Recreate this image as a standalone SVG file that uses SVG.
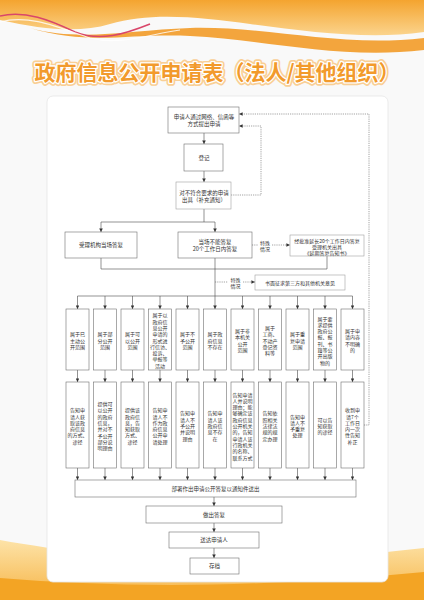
<svg xmlns="http://www.w3.org/2000/svg" width="424" height="600" viewBox="0 0 424 600">
<defs>
<style>
.bx{fill:#fff;stroke:#6e6e6e;stroke-width:0.6}
.bl{fill:#fff;stroke:#a0a0a0;stroke-width:0.6}
.t{font-family:"Noto Sans CJK SC","Noto Sans",sans-serif;font-size:5.5px;fill:#333;text-anchor:middle;dominant-baseline:central}
.s{font-family:"Noto Sans CJK SC","Noto Sans",sans-serif;font-size:5px;fill:#333;text-anchor:middle;dominant-baseline:central}
.ln{fill:none;stroke:#4a4a4a;stroke-width:0.6}
.dl{fill:none;stroke:#666;stroke-width:0.6;stroke-dasharray:1.2 1}
.title{font-family:"Noto Sans CJK SC","Noto Sans",sans-serif;font-size:21px;font-weight:bold;text-anchor:middle}
</style>
<marker id="ar" viewBox="0 0 6 6" refX="6" refY="3" markerWidth="3.6" markerHeight="3.6" markerUnits="userSpaceOnUse" orient="auto">
<path d="M0,0 L6,3 L0,6 Z" fill="#333"/>
</marker>
<linearGradient id="gt" x1="0" y1="0" x2="0" y2="1">
<stop offset="0" stop-color="#f4a42f"/>
<stop offset="1" stop-color="#fbd48d"/>
</linearGradient>
<linearGradient id="gb" x1="0" y1="0" x2="0" y2="1">
<stop offset="0" stop-color="#fde3a8"/>
<stop offset="1" stop-color="#f6b446"/>
</linearGradient>
</defs>
<rect x="0" y="0" width="424" height="600" fill="#f9f9f9"/>
<!-- top waves -->
<path d="M0,0 H424 V32 C370,40 310,32 250,24 C200,17 150,12 110,24 C80,33 45,30 0,20 Z" fill="url(#gt)"/>
<path d="M30,28 C80,42 130,30 190,28 C270,26 340,48 424,38 V50 C340,60 270,40 190,36 C130,33 90,46 30,28 Z" fill="#f3a53d"/>
<path d="M0,16 C25,10 50,20 75,32 C100,42 125,34 150,24" fill="none" stroke="#d9466a" stroke-width="1.6"/>
<path d="M0,22 C30,14 60,28 90,38 C120,46 150,34 180,30" fill="none" stroke="#fff" stroke-width="1.2" opacity="0.8"/>
<!-- bottom waves -->
<path d="M0,540 C90,556 220,572 424,548 V600 H0 Z" fill="url(#gb)"/>
<path d="M0,578 C120,588 260,588 424,572 V600 H0 Z" fill="#f3a424"/>
<!-- panel -->
<rect x="47" y="96" width="341" height="486" rx="6" fill="#fff" stroke="#e6e6e6" stroke-width="0.8"/>
<!-- title -->
<text class="title" x="217" y="80" fill="none" stroke="#f9cf95" stroke-width="6" stroke-linejoin="round">政府信息公开申请表（法人/其他组织）</text>
<text class="title" x="217" y="80" fill="none" stroke="#fff" stroke-width="2.6" stroke-linejoin="round">政府信息公开申请表（法人/其他组织）</text>
<text class="title" x="217" y="80" fill="#f29a2c">政府信息公开申请表（法人/其他组织）</text>

<g id="connectors">
<line class="ln" x1="204" y1="133" x2="204" y2="144" marker-end="url(#ar)"/>
<line class="ln" x1="204" y1="171" x2="204" y2="182" marker-end="url(#ar)"/>
<line class="ln" x1="204" y1="209" x2="204" y2="222"/>
<line class="ln" x1="101" y1="222" x2="215" y2="222"/>
<line class="ln" x1="101" y1="222" x2="101" y2="232" marker-end="url(#ar)"/>
<line class="ln" x1="215" y1="222" x2="215" y2="232" marker-end="url(#ar)"/>
<polyline class="dl" points="231,195 261,195 261,126 239,126" marker-end="url(#ar)"/>
<polyline class="dl" points="364,425 369,425 369,114 239,114" marker-end="url(#ar)"/>
<polyline class="ln" points="101,258 101,269 327,269"/>
<line class="ln" x1="327" y1="256" x2="327" y2="269"/>
<line class="ln" x1="215" y1="258" x2="215" y2="296"/>
<line class="dl" x1="252" y1="245" x2="258" y2="245"/>
<line class="dl" x1="272" y1="245" x2="290" y2="245" marker-end="url(#ar)"/>
<line class="dl" x1="215" y1="282" x2="228" y2="282"/>
<line class="dl" x1="243" y1="282" x2="255" y2="282" marker-end="url(#ar)"/>
<line class="ln" x1="77.5" y1="296" x2="352.5" y2="296"/>
<g>
<line class="ln" x1="77.5" y1="296" x2="77.5" y2="309" marker-end="url(#ar)"/>
<line class="ln" x1="105" y1="296" x2="105" y2="309" marker-end="url(#ar)"/>
<line class="ln" x1="132.5" y1="296" x2="132.5" y2="309" marker-end="url(#ar)"/>
<line class="ln" x1="160" y1="296" x2="160" y2="309" marker-end="url(#ar)"/>
<line class="ln" x1="187.5" y1="296" x2="187.5" y2="309" marker-end="url(#ar)"/>
<line class="ln" x1="215" y1="296" x2="215" y2="309" marker-end="url(#ar)"/>
<line class="ln" x1="242.5" y1="296" x2="242.5" y2="309" marker-end="url(#ar)"/>
<line class="ln" x1="270" y1="296" x2="270" y2="309" marker-end="url(#ar)"/>
<line class="ln" x1="297.5" y1="296" x2="297.5" y2="309" marker-end="url(#ar)"/>
<line class="ln" x1="325" y1="296" x2="325" y2="309" marker-end="url(#ar)"/>
<line class="ln" x1="352.5" y1="296" x2="352.5" y2="309" marker-end="url(#ar)"/>
</g>
<g>
<line class="ln" x1="77.5" y1="370" x2="77.5" y2="382" marker-end="url(#ar)"/>
<line class="ln" x1="105" y1="370" x2="105" y2="382" marker-end="url(#ar)"/>
<line class="ln" x1="132.5" y1="370" x2="132.5" y2="382" marker-end="url(#ar)"/>
<line class="ln" x1="160" y1="370" x2="160" y2="382" marker-end="url(#ar)"/>
<line class="ln" x1="187.5" y1="370" x2="187.5" y2="382" marker-end="url(#ar)"/>
<line class="ln" x1="215" y1="370" x2="215" y2="382" marker-end="url(#ar)"/>
<line class="ln" x1="242.5" y1="370" x2="242.5" y2="382" marker-end="url(#ar)"/>
<line class="ln" x1="270" y1="370" x2="270" y2="382" marker-end="url(#ar)"/>
<line class="ln" x1="297.5" y1="370" x2="297.5" y2="382" marker-end="url(#ar)"/>
<line class="ln" x1="325" y1="370" x2="325" y2="382" marker-end="url(#ar)"/>
<line class="ln" x1="352.5" y1="370" x2="352.5" y2="382" marker-end="url(#ar)"/>
</g>
<g>
<line class="ln" x1="77.5" y1="468" x2="77.5" y2="480" marker-end="url(#ar)"/>
<line class="ln" x1="105" y1="468" x2="105" y2="480" marker-end="url(#ar)"/>
<line class="ln" x1="132.5" y1="468" x2="132.5" y2="480" marker-end="url(#ar)"/>
<line class="ln" x1="160" y1="468" x2="160" y2="480" marker-end="url(#ar)"/>
<line class="ln" x1="187.5" y1="468" x2="187.5" y2="480" marker-end="url(#ar)"/>
<line class="ln" x1="215" y1="468" x2="215" y2="480" marker-end="url(#ar)"/>
<line class="ln" x1="242.5" y1="468" x2="242.5" y2="480" marker-end="url(#ar)"/>
<line class="ln" x1="270" y1="468" x2="270" y2="480" marker-end="url(#ar)"/>
<line class="ln" x1="297.5" y1="468" x2="297.5" y2="480" marker-end="url(#ar)"/>
<line class="ln" x1="325" y1="468" x2="325" y2="480" marker-end="url(#ar)"/>
<line class="ln" x1="352.5" y1="468" x2="352.5" y2="480" marker-end="url(#ar)"/>
</g>
<line class="ln" x1="214" y1="497" x2="214" y2="506" marker-end="url(#ar)"/>
<line class="ln" x1="214" y1="523" x2="214" y2="532" marker-end="url(#ar)"/>
<line class="ln" x1="214" y1="548" x2="214" y2="558" marker-end="url(#ar)"/>
</g>

<g id="apply"><rect class="bx" x="168" y="107" width="71" height="26"/>
<text class="t" x="204"><tspan x="204" y="117">申请人通过网络、信函等</tspan><tspan x="204" y="124">方式提出申请</tspan></text></g>
<g id="register"><rect class="bx" x="184" y="144" width="39" height="27"/><text class="t" x="204" y="158">登记</text></g>
<g id="supplement"><rect class="bl" x="176" y="182" width="55" height="27"/>
<text class="t"><tspan x="204" y="192.5">对不符合要求的申请</tspan><tspan x="204" y="199.5">出具（补充通知）</tspan></text></g>
<g id="onsite"><rect class="bx" x="65" y="232" width="72" height="26"/><text class="t" x="101" y="245">受理机构当场答复</text></g>
<g id="within20"><rect class="bx" x="178" y="232" width="74" height="26"/>
<text class="t"><tspan x="215" y="241.5">当场不能答复</tspan><tspan x="215" y="248.5">20个工作日内答复</tspan></text></g>
<g id="special1"><text class="s"><tspan x="265" y="242">特殊</tspan><tspan x="265" y="248">情况</tspan></text></g>
<g id="extend"><rect class="bl" x="290" y="235" width="74" height="21"/>
<text class="s"><tspan x="327" y="239.5">经批准延长20个工作日内答复</tspan><tspan x="327" y="245.5">受理机关出具</tspan><tspan x="327" y="251.5">《延期答复告知书》</tspan></text></g>
<g id="special2"><text class="s"><tspan x="235.5" y="279">特殊</tspan><tspan x="235.5" y="285">情况</tspan></text></g>
<g id="consult"><rect class="bl" x="255" y="275" width="90" height="15"/><text class="s" x="300" y="282.5">书面征求第三方和其他机关意见</text></g>

<!-- upper row -->
<g id="u1"><rect class="bx" x="66" y="309" width="23" height="61"/><text class="s"><tspan x="77.5" y="333.2">属于已</tspan><tspan x="77.5" dy="6.3">主动公</tspan><tspan x="77.5" dy="6.3">开范围</tspan></text></g>
<g id="u2"><rect class="bx" x="93.5" y="309" width="23" height="61"/><text class="s"><tspan x="105" y="333.2">属于部</tspan><tspan x="105" dy="6.3">分公开</tspan><tspan x="105" dy="6.3">范围</tspan></text></g>
<g id="u3"><rect class="bx" x="121" y="309" width="23" height="61"/><text class="s"><tspan x="132.5" y="333.2">属于可</tspan><tspan x="132.5" dy="6.3">以公开</tspan><tspan x="132.5" dy="6.3">范围</tspan></text></g>
<g id="u4"><rect class="bx" x="148.5" y="309" width="23" height="61"/><text class="s"><tspan x="160" y="314.3">属于以</tspan><tspan x="160" dy="6.3">政府信</tspan><tspan x="160" dy="6.3">息公开</tspan><tspan x="160" dy="6.3">申请的</tspan><tspan x="160" dy="6.3">形式进</tspan><tspan x="160" dy="6.3">行信访、</tspan><tspan x="160" dy="6.3">投诉、</tspan><tspan x="160" dy="6.3">举报等</tspan><tspan x="160" dy="6.3">活动</tspan></text></g>
<g id="u5"><rect class="bx" x="176" y="309" width="23" height="61"/><text class="s"><tspan x="187.5" y="333.2">属于不</tspan><tspan x="187.5" dy="6.3">予公开</tspan><tspan x="187.5" dy="6.3">范围</tspan></text></g>
<g id="u6"><rect class="bx" x="203.5" y="309" width="23" height="61"/><text class="s"><tspan x="215" y="333.2">属于政</tspan><tspan x="215" dy="6.3">府信息</tspan><tspan x="215" dy="6.3">不存在</tspan></text></g>
<g id="u7"><rect class="bx" x="231" y="309" width="23" height="61"/><text class="s"><tspan x="242.5" y="330.1">属于非</tspan><tspan x="242.5" dy="6.3">本机关</tspan><tspan x="242.5" dy="6.3">公开</tspan><tspan x="242.5" dy="6.3">范围</tspan></text></g>
<g id="u8"><rect class="bx" x="258.5" y="309" width="23" height="61"/><text class="s"><tspan x="270" y="326.9">属于</tspan><tspan x="270" dy="6.3">工商、</tspan><tspan x="270" dy="6.3">不动产</tspan><tspan x="270" dy="6.3">登记资</tspan><tspan x="270" dy="6.3">料等</tspan></text></g>
<g id="u9"><rect class="bx" x="286" y="309" width="23" height="61"/><text class="s"><tspan x="297.5" y="333.2">属于重</tspan><tspan x="297.5" dy="6.3">复申请</tspan><tspan x="297.5" dy="6.3">范围</tspan></text></g>
<g id="u10"><rect class="bx" x="313.5" y="309" width="23" height="61"/><text class="s"><tspan x="325" y="317.5">属于要</tspan><tspan x="325" dy="6.3">求提供</tspan><tspan x="325" dy="6.3">政府公</tspan><tspan x="325" dy="6.3">报、报</tspan><tspan x="325" dy="6.3">刊、书</tspan><tspan x="325" dy="6.3">籍等公</tspan><tspan x="325" dy="6.3">开出版</tspan><tspan x="325" dy="6.3">物的</tspan></text></g>
<g id="u11"><rect class="bx" x="341" y="309" width="23" height="61"/><text class="s"><tspan x="352.5" y="330.1">属于申</tspan><tspan x="352.5" dy="6.3">请内容</tspan><tspan x="352.5" dy="6.3">不明确</tspan><tspan x="352.5" dy="6.3">的</tspan></text></g>

<!-- lower row -->
<g id="l1"><rect class="bx" x="66" y="382" width="23" height="86"/><text class="s"><tspan x="77.5" y="409.25">告知申</tspan><tspan x="77.5" dy="6.3">请人获</tspan><tspan x="77.5" dy="6.3">取该政</tspan><tspan x="77.5" dy="6.3">府信息</tspan><tspan x="77.5" dy="6.3">的方式、</tspan><tspan x="77.5" dy="6.3">途径</tspan></text></g>
<g id="l2"><rect class="bx" x="93.5" y="382" width="23" height="86"/><text class="s"><tspan x="105" y="403">提供可</tspan><tspan x="105" dy="6.3">以公开</tspan><tspan x="105" dy="6.3">的政府</tspan><tspan x="105" dy="6.3">信息，</tspan><tspan x="105" dy="6.3">并对不</tspan><tspan x="105" dy="6.3">予公开</tspan><tspan x="105" dy="6.3">部分说</tspan><tspan x="105" dy="6.3">明理由</tspan></text></g>
<g id="l3"><rect class="bx" x="121" y="382" width="23" height="86"/><text class="s"><tspan x="132.5" y="409.25">提供该</tspan><tspan x="132.5" dy="6.3">政府信</tspan><tspan x="132.5" dy="6.3">息，告</tspan><tspan x="132.5" dy="6.3">知获取</tspan><tspan x="132.5" dy="6.3">方式、</tspan><tspan x="132.5" dy="6.3">途径</tspan></text></g>
<g id="l4"><rect class="bx" x="148.5" y="382" width="23" height="86"/><text class="s"><tspan x="160" y="409.25">告知申</tspan><tspan x="160" dy="6.3">请人不</tspan><tspan x="160" dy="6.3">作为政</tspan><tspan x="160" dy="6.3">府信息</tspan><tspan x="160" dy="6.3">公开申</tspan><tspan x="160" dy="6.3">请处理</tspan></text></g>
<g id="l5"><rect class="bx" x="176" y="382" width="23" height="86"/><text class="s"><tspan x="187.5" y="412.4">告知申</tspan><tspan x="187.5" dy="6.3">请人不</tspan><tspan x="187.5" dy="6.3">予公开</tspan><tspan x="187.5" dy="6.3">并说明</tspan><tspan x="187.5" dy="6.3">理由</tspan></text></g>
<g id="l6"><rect class="bx" x="203.5" y="382" width="23" height="86"/><text class="s"><tspan x="215" y="412.4">告知申</tspan><tspan x="215" dy="6.3">请人该</tspan><tspan x="215" dy="6.3">政府信</tspan><tspan x="215" dy="6.3">息不存</tspan><tspan x="215" dy="6.3">在</tspan></text></g>
<g id="l7"><rect class="bx" x="231" y="382" width="23" height="86"/><text class="s"><tspan x="242.5" y="393.5">告知申请</tspan><tspan x="242.5" dy="6.3">人并说明</tspan><tspan x="242.5" dy="6.3">理由；能</tspan><tspan x="242.5" dy="6.3">够确定该</tspan><tspan x="242.5" dy="6.3">政府信息</tspan><tspan x="242.5" dy="6.3">公开机关</tspan><tspan x="242.5" dy="6.3">的，告知</tspan><tspan x="242.5" dy="6.3">申请人该</tspan><tspan x="242.5" dy="6.3">行政机关</tspan><tspan x="242.5" dy="6.3">的名称、</tspan><tspan x="242.5" dy="6.3">联系方式</tspan></text></g>
<g id="l8"><rect class="bx" x="258.5" y="382" width="23" height="86"/><text class="s"><tspan x="270" y="412.4">告知依</tspan><tspan x="270" dy="6.3">照相关</tspan><tspan x="270" dy="6.3">法律法</tspan><tspan x="270" dy="6.3">规的规</tspan><tspan x="270" dy="6.3">定办理</tspan></text></g>
<g id="l9"><rect class="bx" x="286" y="382" width="23" height="86"/><text class="s"><tspan x="297.5" y="415.55">告知申</tspan><tspan x="297.5" dy="6.3">请人不</tspan><tspan x="297.5" dy="6.3">予重复</tspan><tspan x="297.5" dy="6.3">处理</tspan></text></g>
<g id="l10"><rect class="bx" x="313.5" y="382" width="23" height="86"/><text class="s"><tspan x="325" y="418.7">可以告</tspan><tspan x="325" dy="6.3">知获取</tspan><tspan x="325" dy="6.3">的途径</tspan></text></g>
<g id="l11"><rect class="bx" x="341" y="382" width="23" height="86"/><text class="s"><tspan x="352.5" y="409.25">收到申</tspan><tspan x="352.5" dy="6.3">请7个</tspan><tspan x="352.5" dy="6.3">工作日</tspan><tspan x="352.5" dy="6.3">内一次</tspan><tspan x="352.5" dy="6.3">性告知</tspan><tspan x="352.5" dy="6.3">补正</tspan></text></g>

<g id="reply-doc"><rect class="bx" x="75" y="480" width="281" height="17"/><text class="t" x="215.5" y="488.5">部署作出申请公开答复以通知件送出</text></g>
<g id="reply"><rect class="bx" x="146" y="506" width="136" height="17"/><text class="t" x="214" y="514.5">做出答复</text></g>
<g id="deliver"><rect class="bx" x="169" y="532" width="90" height="16"/><text class="t" x="214" y="540">送达申请人</text></g>
<g id="archive"><rect class="bx" x="190" y="558" width="49" height="16"/><text class="t" x="214.5" y="566">存档</text></g>
</svg>
